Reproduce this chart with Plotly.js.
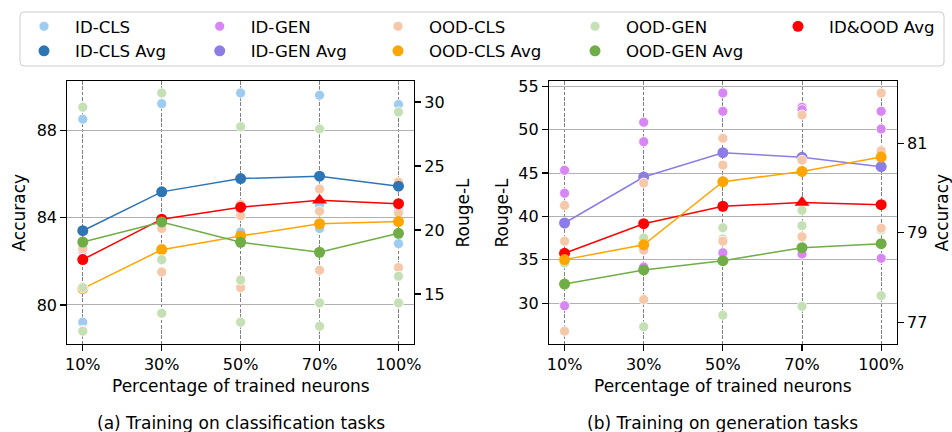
<!DOCTYPE html>
<html><head><meta charset="utf-8">
<script src="https://cdn.plot.ly/plotly-3.0.1.min.js"></script>
<style>html,body{margin:0;padding:0;background:#fff}#chart{width:952px;height:432px}</style>
</head><body><div id="chart"></div>
<script>
// ---------- data ----------
const pct = ['10%', '30%', '50%', '70%', '100%'];

// (a) Training on classification tasks
const aIdCls = [            // accuracy, one row per dataset
  [88.51, 89.22, 89.71, 89.61, 89.18],
  [82.48, 83.80, 84.30, 84.58, 84.33],
  [79.21, 82.51, 83.34, 83.50, 82.81]
];
const aIdClsAvg = [83.40, 85.18, 85.79, 85.90, 85.44];
const aOodCls = [
  [82.58, 83.50, 84.60, 85.31, 85.63],
  [80.82, 82.59, 84.09, 84.29, 84.21],
  [78.84, 81.51, 80.79, 81.59, 81.71]
];
const aOodClsAvg = [80.75, 82.53, 83.16, 83.72, 83.82];
const aOodGen = [           // Rouge-L
  [29.59, 30.70, 28.07, 27.89, 29.22],
  [15.49, 17.68, 16.09, 14.30, 16.38],
  [12.09, 13.49, 12.79, 12.48, 14.30]
];
const aOodGenAvg = [19.06, 20.63, 19.04, 18.26, 19.74];
const aAllAvg = [82.08, 83.93, 84.48, 84.80, 84.64];

// (b) Training on generation tasks
const bIdGen = [            // Rouge-L
  [45.32, 50.85, 54.23, 52.58, 52.12],
  [42.67, 48.62, 52.12, 52.30, 50.08],
  [29.72, 34.18, 35.83, 35.68, 35.18]
];
const bIdGenAvg = [39.25, 44.55, 47.35, 46.82, 45.74];
const bOodGen = [
  [34.64, 37.52, 38.71, 40.71, 41.36],
  [32.22, 36.68, 37.41, 38.94, 38.44],
  [29.80, 27.30, 28.62, 29.65, 30.88]
];
const bOodGenAvg = [32.22, 33.84, 34.91, 36.41, 36.87];
const bAllAvg = [35.76, 39.17, 41.18, 41.60, 41.36];
const bOodCls = [           // accuracy
  [79.61, 80.11, 81.11, 81.63, 82.12],
  [78.81, 78.61, 80.51, 80.62, 80.83],
  [76.80, 77.51, 78.81, 78.91, 79.10]
];
const bOodClsAvg = [78.40, 78.73, 80.14, 80.37, 80.69];

const yTicksAccA = [80, 84, 88];
const yTicksRougeA = [15, 20, 25, 30];
const yTicksRougeB = [30, 35, 40, 45, 50, 55];
const yTicksAccB = [77, 79, 81];

// ---------- style ----------
const C = {
  idCls: '#9ecbf0', idClsAvg: '#2e75b6',
  idGen: '#d986f5', idGenAvg: '#8c7de6',
  oodCls: '#f6c8aa', oodClsAvg: '#ffa500',
  oodGen: '#c5e0b4', oodGenAvg: '#70ad47',
  all: '#ff0000'
};
const FONT = 'DejaVu Sans, Verdana, sans-serif';
const W = 952, H = 432, ML = 67, MR = 55, MT = 81, MB = 88;
const PW = W - ML - MR, PH = H - MT - MB;
const px = v => (v - ML) / PW;
const py = v => (H - MB - v) / PH;

const traces = [];
function pts(rows, xa, ya, color, name, legend, show) {
  rows.forEach((r, i) => traces.push({
    type: 'scatter', mode: 'markers', x: pct, y: r, xaxis: xa, yaxis: ya,
    name: name, legend: legend, showlegend: show && i === 0,
    marker: {size: 10, color: color, line: {color: 'white', width: 0.8}},
    cliponaxis: false
  }));
}
function avg(vals, xa, ya, color, name, legend, show, peak) {
  traces.push({
    type: 'scatter', mode: 'lines', x: pct, y: vals, xaxis: xa, yaxis: ya,
    showlegend: false, line: {color: color, width: 1.5}, name: name
  });
  const m = peak ? vals.indexOf(Math.max(...vals)) : -1;
  traces.push({
    type: 'scatter', mode: 'markers', x: pct,
    y: vals.map((v, i) => i === m ? null : v), xaxis: xa, yaxis: ya,
    name: name, legend: legend, showlegend: show,
    marker: {size: 11, color: color, symbol: 'circle'}, cliponaxis: false
  });
  if (peak) {
    traces.push({
      type: 'scatter', mode: 'markers', x: [pct[m]], y: [vals[m]], xaxis: xa, yaxis: ya,
      name: name, showlegend: false,
      marker: {size: 13, color: color, symbol: 'triangle-up'}, cliponaxis: false
    });
  }
}

// panel (a): accuracy on y, Rouge-L on y2 (drawn on top)
pts(aIdCls, 'x', 'y', C.idCls, 'ID-CLS', 'legend', true);
pts(aOodCls, 'x', 'y', C.oodCls, 'OOD-CLS', 'legend3', true);
avg(aIdClsAvg, 'x', 'y', C.idClsAvg, 'ID-CLS Avg', 'legend', true);
avg(aOodClsAvg, 'x', 'y', C.oodClsAvg, 'OOD-CLS Avg', 'legend3', true);
avg(aAllAvg, 'x', 'y', C.all, 'ID&OOD Avg', 'legend5', true, true);
pts(aOodGen, 'x', 'y2', C.oodGen, 'OOD-GEN', 'legend4', true);
avg(aOodGenAvg, 'x', 'y2', C.oodGenAvg, 'OOD-GEN Avg', 'legend4', true);

// panel (b): Rouge-L on y3, accuracy on y4 (drawn on top)
pts(bOodGen, 'x2', 'y3', C.oodGen, 'OOD-GEN', 'legend4', false);
pts(bIdGen, 'x2', 'y3', C.idGen, 'ID-GEN', 'legend2', true);
avg(bIdGenAvg, 'x2', 'y3', C.idGenAvg, 'ID-GEN Avg', 'legend2', true);
avg(bOodGenAvg, 'x2', 'y3', C.oodGenAvg, 'OOD-GEN Avg', 'legend4', false);
avg(bAllAvg, 'x2', 'y3', C.all, 'ID&OOD Avg', 'legend5', false, true);
pts(bOodCls, 'x2', 'y4', C.oodCls, 'OOD-CLS', 'legend3', false);
avg(bOodClsAvg, 'x2', 'y4', C.oodClsAvg, 'OOD-CLS Avg', 'legend3', false);

// ---------- axes ----------
const tickfont = {family: FONT, size: 16, color: 'black'};
function xAx(domain, anchor) {
  return {
    domain: domain, anchor: anchor, type: 'category', range: [-0.2, 4.2],
    showgrid: true, gridcolor: '#808080', gridwidth: 1, griddash: '3.7px,1.6px',
    showline: true, mirror: true, linecolor: 'black', linewidth: 1.2,
    ticks: 'outside', ticklen: 5.6, tickwidth: 1.2, tickcolor: 'black',
    tickfont: tickfont, zeroline: false, fixedrange: true
  };
}
function yAx(range, tickvals, opts) {
  return Object.assign({
    range: range, tickvals: tickvals, ticktext: tickvals.map(String),
    showline: true, linecolor: 'black', linewidth: 1.2,
    ticks: 'outside', ticklen: 5.6, tickwidth: 1.2, tickcolor: 'black',
    tickfont: tickfont, zeroline: false, fixedrange: true
  }, opts);
}

// legend columns (positions in container px)
const legCols = [13, 188.7, 367, 564, 767];
const legTop = 9;
const legends = {};
legCols.forEach((lx, i) => {
  legends[i === 0 ? 'legend' : 'legend' + (i + 1)] = {
    xref: 'container', yref: 'container', x: lx / W, y: 1 - legTop / H,
    xanchor: 'left', yanchor: 'top', orientation: 'v',
    bgcolor: 'rgba(0,0,0,0)', borderwidth: 0, itemwidth: 52,
    font: {family: FONT, size: 16.6, color: 'black'}, tracegroupgap: 0,
    itemclick: false, itemdoubleclick: false
  };
});

// rounded legend frame
function roundRect(x0, y0, x1, y1, r) {
  const rx = r / PW, ry = r / PH;
  const X0 = px(x0), X1 = px(x1), Yt = py(y0), Yb = py(y1);
  return `M${X0 + rx},${Yt} L${X1 - rx},${Yt} Q${X1},${Yt} ${X1},${Yt - ry} ` +
         `L${X1},${Yb + ry} Q${X1},${Yb} ${X1 - rx},${Yb} L${X0 + rx},${Yb} ` +
         `Q${X0},${Yb} ${X0},${Yb + ry} L${X0},${Yt - ry} Q${X0},${Yt} ${X0 + rx},${Yt} Z`;
}

function ann(text, x, y, angle) {
  return {
    xref: 'paper', yref: 'paper', x: px(x), y: py(y), text: text,
    showarrow: false, xanchor: 'center', yanchor: 'middle',
    textangle: angle || 0, font: {family: FONT, size: 17, color: 'black'}
  };
}

const layout = Object.assign({
  width: W, height: H,
  margin: {l: ML, r: MR, t: MT, b: MB, autoexpand: false},
  paper_bgcolor: 'white', plot_bgcolor: 'white',
  font: {family: FONT, size: 16, color: 'black'},
  xaxis: xAx([0, 0.4184], 'y'),
  xaxis2: xAx([0.5804, 1], 'y3'),
  yaxis: yAx([78.21, 90.26], yTicksAccA, {anchor: 'x', showgrid: true, gridcolor: '#b0b0b0', gridwidth: 1}),
  yaxis2: yAx([11.09, 31.64], yTicksRougeA, {anchor: 'x', overlaying: 'y', side: 'right', showgrid: false}),
  yaxis3: yAx([25.31, 55.61], yTicksRougeB, {anchor: 'x2', showgrid: true, gridcolor: '#b0b0b0', gridwidth: 1}),
  yaxis4: yAx([76.515, 82.39], yTicksAccB, {anchor: 'x2', overlaying: 'y3', side: 'right', showgrid: false}),
  shapes: [{
    type: 'path', xref: 'paper', yref: 'paper', path: roundRect(20, 12, 944, 66, 4),
    line: {color: '#cccccc', width: 1}, fillcolor: 'white', layer: 'above'
  }],
  annotations: [
    ann('Accuracy', 18, 212.5, -90),
    ann('Rouge-L', 462, 212.5, -90),
    ann('Rouge-L', 501, 212.5, -90),
    ann('Accuracy', 941, 212.5, -90),
    ann('Percentage of trained neurons', 240.5, 385.5),
    ann('Percentage of trained neurons', 722.7, 385.5),
    ann('(a) Training on classification tasks', 240.5, 423),
    ann('(b) Training on generation tasks', 722.7, 423)
  ],
  hovermode: false
}, legends);

Plotly.newPlot('chart', traces, layout, {displayModeBar: false, staticPlot: true});
</script>
</body></html>
